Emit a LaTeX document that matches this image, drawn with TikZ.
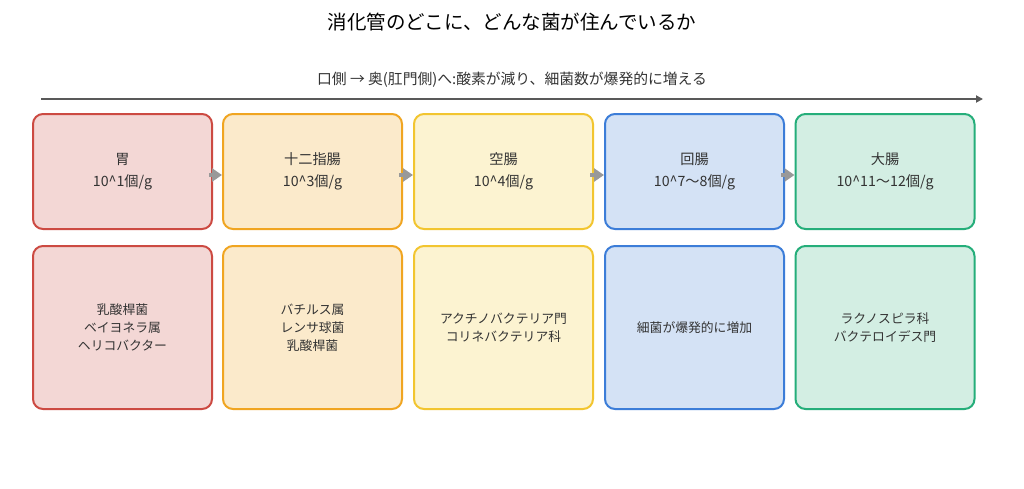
\documentclass[tikz,border=0pt]{standalone}
\usepackage{fontspec}
\setmainfont{Noto Sans CJK JP}
\usetikzlibrary{arrows.meta}
\definecolor{txt}{HTML}{333333}
\definecolor{redB}{HTML}{CC4A42}\definecolor{redF}{HTML}{F3D7D5}
\definecolor{orgB}{HTML}{F0A521}\definecolor{orgF}{HTML}{FBEACB}
\definecolor{yelB}{HTML}{F2C530}\definecolor{yelF}{HTML}{FCF3D1}
\definecolor{bluB}{HTML}{3C7DD8}\definecolor{bluF}{HTML}{D4E2F5}
\definecolor{grnB}{HTML}{25AE7A}\definecolor{grnF}{HTML}{D3EEE3}
\definecolor{arr}{HTML}{999999}
\tikzset{
  box/.style={draw=#1B, fill=#1F, line width=2pt, rounded corners=10pt,
    minimum width=179pt, align=center, text=txt, inner sep=0pt},
  topbox/.style={box=#1, minimum height=115pt, font=\fontsize{14.2}{22}\selectfont},
  botbox/.style={box=#1, minimum height=163pt, font=\fontsize{12.8}{18}\selectfont},
  flow/.style={draw=arr, line width=4pt, -{Triangle[length=10pt,width=13pt]}},
}
\begin{document}
\begin{tikzpicture}[x=1pt,y=-1pt]
\useasboundingbox[fill=white] (0,0) rectangle (1024,488);
\node[text=black, font=\fontsize{19.5}{22}\selectfont] (title) at (512,22.5) {消化管のどこに、どんな菌が住んでいるか};
\node[text=txt, font=\fontsize{14.8}{16}\selectfont] (sub) at (512,79.5) {口側 → 奥(肛門側)へ:酸素が減り、細菌数が爆発的に増える};
\coordinate (tl) at (41,99);
\coordinate (tr) at (983,99);
\draw[draw=black!65, line width=2pt, -{Triangle[length=7pt,width=7pt]}] (tl) -- (tr);

\node[topbox=red] (t1) at (122.5,171.5) {胃\\10\textasciicircum 1個/g};
\node[topbox=org] (t2) at (312.5,171.5) {十二指腸\\10\textasciicircum 3個/g};
\node[topbox=yel] (t3) at (503.5,171.5) {空腸\\10\textasciicircum 4個/g};
\node[topbox=blu] (t4) at (694.5,171.5) {回腸\\10\textasciicircum 7〜8個/g};
\node[topbox=grn] (t5) at (885,171.5) {大腸\\10\textasciicircum 11〜12個/g};

\node[botbox=red] (b1) at (122.5,327.5) {乳酸桿菌\\ベイヨネラ属\\ヘリコバクター};
\node[botbox=org] (b2) at (312.5,327.5) {バチルス属\\レンサ球菌\\乳酸桿菌};
\node[botbox=yel] (b3) at (503.5,327.5) {アクチノバクテリア門\\コリネバクテリア科};
\node[botbox=blu] (b4) at (694.5,327.5) {細菌が爆発的に増加};
\node[botbox=grn] (b5) at (885,327.5) {ラクノスピラ科\\バクテロイデス門};

\foreach \a/\b in {t1/t2,t2/t3,t3/t4,t4/t5}
  \draw[flow] ([xshift=-4pt,yshift=-3.5pt]\a.east) -- ([yshift=-3.5pt]\b.west);
\end{tikzpicture}
\end{document}
